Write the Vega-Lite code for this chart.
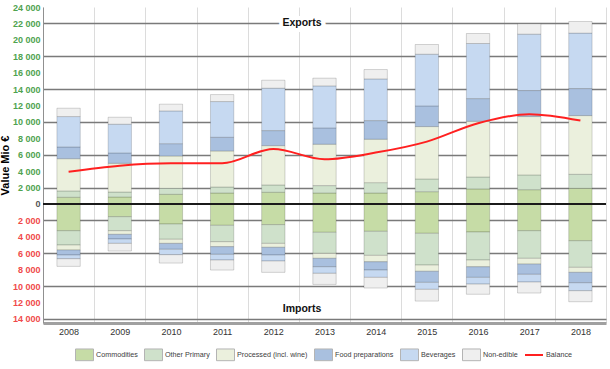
{
"$schema": "https://vega.github.io/schema/vega-lite/v6.json",
"width": 563, "height": 316,
"autosize": {"type": "none"},
"padding": {"left": 43, "top": 7, "right": 4, "bottom": 46},
"config": {"view": {"stroke": null}, "font": "Liberation Sans"},
"datasets": {
"bars": [
{"year":"2008","category":"Commodities","value":820},{"year":"2008","category":"Other Primary","value":770},{"year":"2008","category":"Processed (incl. wine)","value":3930},{"year":"2008","category":"Food preparations","value":1430},{"year":"2008","category":"Beverages","value":3700},{"year":"2008","category":"Non-edible","value":1020},
{"year":"2009","category":"Commodities","value":850},{"year":"2009","category":"Other Primary","value":610},{"year":"2009","category":"Processed (incl. wine)","value":3500},{"year":"2009","category":"Food preparations","value":1260},{"year":"2009","category":"Beverages","value":3500},{"year":"2009","category":"Non-edible","value":850},
{"year":"2010","category":"Commodities","value":1180},{"year":"2010","category":"Other Primary","value":730},{"year":"2010","category":"Processed (incl. wine)","value":3940},{"year":"2010","category":"Food preparations","value":1500},{"year":"2010","category":"Beverages","value":3990},{"year":"2010","category":"Non-edible","value":820},
{"year":"2011","category":"Commodities","value":1340},{"year":"2011","category":"Other Primary","value":730},{"year":"2011","category":"Processed (incl. wine)","value":4390},{"year":"2011","category":"Food preparations","value":1670},{"year":"2011","category":"Beverages","value":4350},{"year":"2011","category":"Non-edible","value":850},
{"year":"2012","category":"Commodities","value":1430},{"year":"2012","category":"Other Primary","value":890},{"year":"2012","category":"Processed (incl. wine)","value":4790},{"year":"2012","category":"Food preparations","value":1830},{"year":"2012","category":"Beverages","value":5170},{"year":"2012","category":"Non-edible","value":970},
{"year":"2013","category":"Commodities","value":1340},{"year":"2013","category":"Other Primary","value":900},{"year":"2013","category":"Processed (incl. wine)","value":5040},{"year":"2013","category":"Food preparations","value":1990},{"year":"2013","category":"Beverages","value":5120},{"year":"2013","category":"Non-edible","value":940},
{"year":"2014","category":"Commodities","value":1340},{"year":"2014","category":"Other Primary","value":1260},{"year":"2014","category":"Processed (incl. wine)","value":5290},{"year":"2014","category":"Food preparations","value":2270},{"year":"2014","category":"Beverages","value":5080},{"year":"2014","category":"Non-edible","value":1140},
{"year":"2015","category":"Commodities","value":1500},{"year":"2015","category":"Other Primary","value":1550},{"year":"2015","category":"Processed (incl. wine)","value":6380},{"year":"2015","category":"Food preparations","value":2520},{"year":"2015","category":"Beverages","value":6300},{"year":"2015","category":"Non-edible","value":1180},
{"year":"2016","category":"Commodities","value":1830},{"year":"2016","category":"Other Primary","value":1460},{"year":"2016","category":"Processed (incl. wine)","value":6790},{"year":"2016","category":"Food preparations","value":2760},{"year":"2016","category":"Beverages","value":6710},{"year":"2016","category":"Non-edible","value":1220},
{"year":"2017","category":"Commodities","value":1740},{"year":"2017","category":"Other Primary","value":1800},{"year":"2017","category":"Processed (incl. wine)","value":7110},{"year":"2017","category":"Food preparations","value":3170},{"year":"2017","category":"Beverages","value":6870},{"year":"2017","category":"Non-edible","value":1260},
{"year":"2018","category":"Commodities","value":1910},{"year":"2018","category":"Other Primary","value":1710},{"year":"2018","category":"Processed (incl. wine)","value":7150},{"year":"2018","category":"Food preparations","value":3290},{"year":"2018","category":"Beverages","value":6760},{"year":"2018","category":"Non-edible","value":1410},
{"year":"2008","category":"Commodities","value":-3260},{"year":"2008","category":"Other Primary","value":-1740},{"year":"2008","category":"Processed (incl. wine)","value":-610},{"year":"2008","category":"Food preparations","value":-610},{"year":"2008","category":"Beverages","value":-450},{"year":"2008","category":"Non-edible","value":-930},
{"year":"2009","category":"Commodities","value":-1550},{"year":"2009","category":"Other Primary","value":-1710},{"year":"2009","category":"Processed (incl. wine)","value":-440},{"year":"2009","category":"Food preparations","value":-570},{"year":"2009","category":"Beverages","value":-530},{"year":"2009","category":"Non-edible","value":-930},
{"year":"2010","category":"Commodities","value":-2440},{"year":"2010","category":"Other Primary","value":-1860},{"year":"2010","category":"Processed (incl. wine)","value":-500},{"year":"2010","category":"Food preparations","value":-720},{"year":"2010","category":"Beverages","value":-660},{"year":"2010","category":"Non-edible","value":-1020},
{"year":"2011","category":"Commodities","value":-2600},{"year":"2011","category":"Other Primary","value":-2000},{"year":"2011","category":"Processed (incl. wine)","value":-600},{"year":"2011","category":"Food preparations","value":-930},{"year":"2011","category":"Beverages","value":-700},{"year":"2011","category":"Non-edible","value":-1220},
{"year":"2012","category":"Commodities","value":-2520},{"year":"2012","category":"Other Primary","value":-2280},{"year":"2012","category":"Processed (incl. wine)","value":-480},{"year":"2012","category":"Food preparations","value":-940},{"year":"2012","category":"Beverages","value":-730},{"year":"2012","category":"Non-edible","value":-1380},
{"year":"2013","category":"Commodities","value":-3450},{"year":"2013","category":"Other Primary","value":-2560},{"year":"2013","category":"Processed (incl. wine)","value":-610},{"year":"2013","category":"Food preparations","value":-1030},{"year":"2013","category":"Beverages","value":-800},{"year":"2013","category":"Non-edible","value":-1350},
{"year":"2014","category":"Commodities","value":-3330},{"year":"2014","category":"Other Primary","value":-2930},{"year":"2014","category":"Processed (incl. wine)","value":-780},{"year":"2014","category":"Food preparations","value":-1010},{"year":"2014","category":"Beverages","value":-890},{"year":"2014","category":"Non-edible","value":-1300},
{"year":"2015","category":"Commodities","value":-3570},{"year":"2015","category":"Other Primary","value":-3870},{"year":"2015","category":"Processed (incl. wine)","value":-760},{"year":"2015","category":"Food preparations","value":-1350},{"year":"2015","category":"Beverages","value":-850},{"year":"2015","category":"Non-edible","value":-1430},
{"year":"2016","category":"Commodities","value":-3410},{"year":"2016","category":"Other Primary","value":-3420},{"year":"2016","category":"Processed (incl. wine)","value":-820},{"year":"2016","category":"Food preparations","value":-1290},{"year":"2016","category":"Beverages","value":-820},{"year":"2016","category":"Non-edible","value":-1240},
{"year":"2017","category":"Commodities","value":-3260},{"year":"2017","category":"Other Primary","value":-3360},{"year":"2017","category":"Processed (incl. wine)","value":-700},{"year":"2017","category":"Food preparations","value":-1250},{"year":"2017","category":"Beverages","value":-940},{"year":"2017","category":"Non-edible","value":-1340},
{"year":"2018","category":"Commodities","value":-4480},{"year":"2018","category":"Other Primary","value":-3240},{"year":"2018","category":"Processed (incl. wine)","value":-610},{"year":"2018","category":"Food preparations","value":-1270},{"year":"2018","category":"Beverages","value":-970},{"year":"2018","category":"Non-edible","value":-1340}
],
"balance": [
{"year":"2008","value":3940},{"year":"2009","value":4670},{"year":"2010","value":4960},{"year":"2011","value":4960},{"year":"2012","value":6700},{"year":"2013","value":5450},{"year":"2014","value":6260},{"year":"2015","value":7600},{"year":"2016","value":9840},{"year":"2017","value":10940},{"year":"2018","value":10160}
],
"notes": [
{"year":"2013","value":22000,"label":"Exports"},{"year":"2013","value":-12800,"label":"Imports"}
]
},
"layer": [
{
"data": {"name": "bars"},
"transform": [{"calculate": "indexof(['Commodities','Other Primary','Processed (incl. wine)','Food preparations','Beverages','Non-edible'], datum.category)", "as": "k"}],
"mark": {"type": "bar", "width": {"band": 0.456}, "stroke": "#000000", "strokeOpacity": 0.16, "strokeWidth": 1},
"encoding": {
"x": {"field": "year", "type": "nominal", "scale": {"paddingInner": 0, "paddingOuter": 0},
"axis": {"title": null, "labelAngle": 0, "labelFontSize": 9, "labelColor": "#333333", "labelPadding": 4, "ticks": false, "domainColor": "#a0a0a0", "domainWidth": 3, "grid": true, "gridColor": "#dcdcdc", "gridWidth": 1, "tickBand": "extent"}},
"y": {"field": "value", "type": "quantitative", "stack": "zero",
"scale": {"domain": [-14500, 24000], "nice": false, "zero": false},
"axis": {"title": "Value Mio €", "values": [-14000,-12000,-10000,-8000,-6000,-4000,-2000,0,2000,4000,6000,8000,10000,12000,14000,16000,18000,20000,22000,24000],
"tickCount": 40,
"labelExpr": "replace(format(abs(datum.value), ','), ',', ' ')",
"labelOverlap": false,
"labelColor": {"condition": [{"test": "datum.value < 0", "value": "#f04a4a"}, {"test": "datum.value == 0", "value": "#555555"}], "value": "#4fa34f"},
"labelFontSize": 9, "labelFontWeight": "bold", "labelPadding": 3, "ticks": false,
"domainColor": "#909090", "domainWidth": 1,
"grid": true, "gridColor": "#7a7a7a", "gridWidth": 1.5,
"gridOpacity": {"condition": {"test": "abs(datum.value) % 4000 == 2000", "value": 1}, "value": 0},
"titleFontSize": 11, "titleFontWeight": "bold", "titleColor": "#000000", "titlePadding": 2}},
"color": {"field": "category", "type": "nominal",
"scale": {"domain": ["Commodities","Other Primary","Processed (incl. wine)","Food preparations","Beverages","Non-edible"],
"range": ["#c6dca6","#cfe1cb","#ebf0dd","#a9c0df","#c6d9f1","#efefef"]},
"legend": {"orient": "none", "legendX": 32, "legendY": 338, "direction": "horizontal", "title": null,
"symbolType": "M-1,-0.65H1V0.65H-1Z", "symbolSize": 324, "symbolStrokeColor": "#b4b4b4", "symbolStrokeWidth": 1, "symbolOpacity": 1,
"labelFontSize": 7.2, "labelColor": "#404040", "columnPadding": 4, "labelOffset": 2}},
"order": {"field": "k", "type": "quantitative"}
}
},
{
"data": {"values": [{"value": 0}]},
"mark": {"type": "rule", "color": "#1a1a1a", "strokeWidth": 2},
"encoding": {"y": {"field": "value", "type": "quantitative"}}
},
{
"data": {"name": "balance"},
"mark": {"type": "line", "strokeWidth": 2, "interpolate": "monotone"},
"encoding": {
"x": {"field": "year", "type": "nominal"},
"y": {"field": "value", "type": "quantitative"},
"stroke": {"datum": "Balance", "type": "nominal", "scale": {"domain": ["Balance"], "range": ["#ff2020"]},
"legend": {"orient": "none", "legendX": 481, "legendY": 338, "direction": "horizontal", "title": null, "symbolType": "stroke", "symbolSize": 324, "symbolStrokeWidth": 2, "labelFontSize": 7.2, "labelColor": "#404040", "labelOffset": 2}}
}
},
{
"data": {"name": "notes"},
"mark": {"type": "text", "font": "Liberation Sans", "fontSize": 10.5, "fontWeight": "bold", "stroke": "#ffffff", "strokeWidth": 8, "fill": "#ffffff"},
"encoding": {
"x": {"field": "year", "type": "nominal", "bandPosition": 0.06},
"y": {"field": "value", "type": "quantitative"},
"text": {"field": "label"}
}
},
{
"data": {"name": "notes"},
"mark": {"type": "text", "font": "Liberation Sans", "fontSize": 10.5, "fontWeight": "bold", "fill": "#111111"},
"encoding": {
"x": {"field": "year", "type": "nominal", "bandPosition": 0.06},
"y": {"field": "value", "type": "quantitative"},
"text": {"field": "label"}
}
}
]
}
